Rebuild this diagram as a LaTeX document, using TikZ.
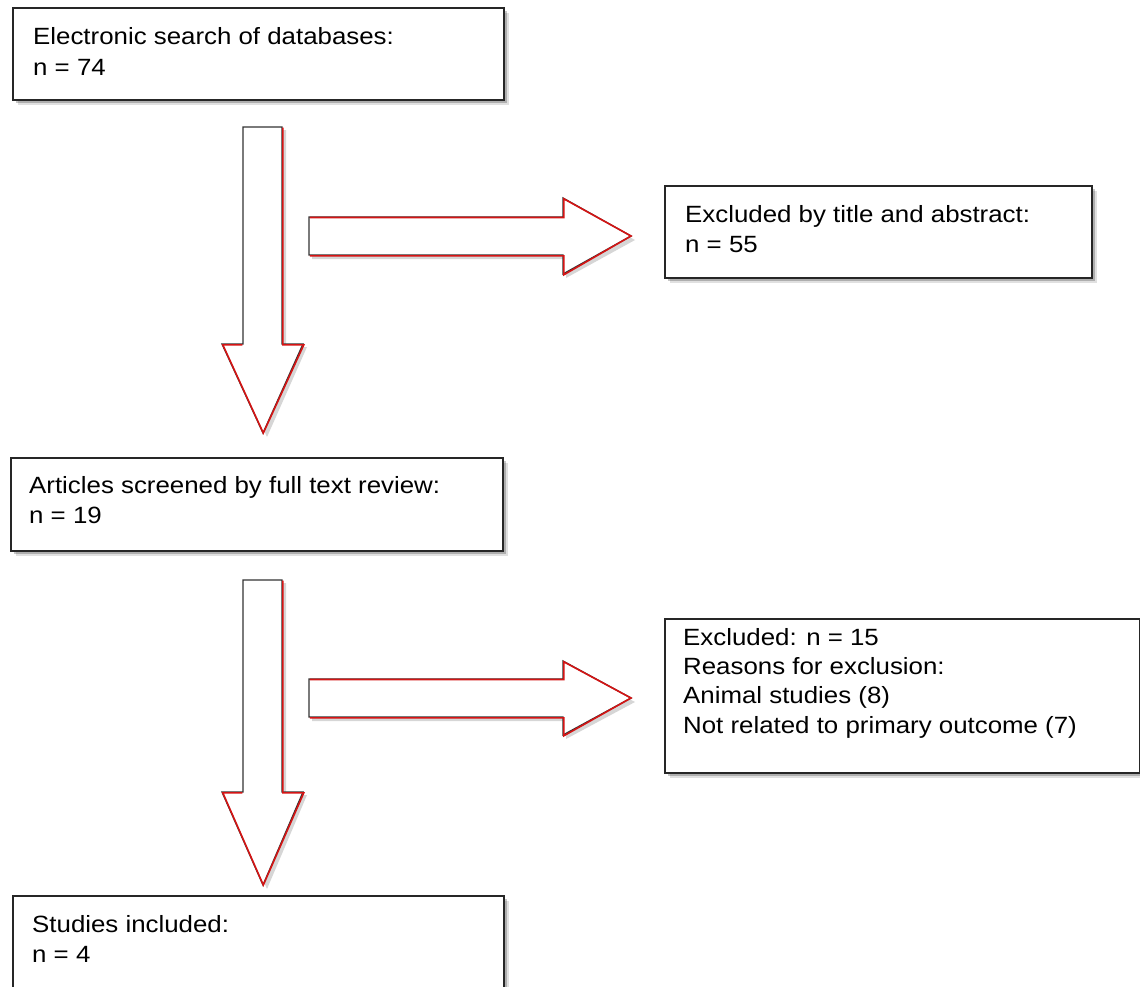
\documentclass[tikz,border=0pt]{standalone}
\usepackage{fontspec}
\setmainfont{Liberation Sans}[FakeStretch=1.1]
\usetikzlibrary{shadows}
\definecolor{arrred}{HTML}{D41414}
\tikzset{
  boxnode/.style={draw=black!85, line width=1.8pt, fill=white, rectangle, inner sep=0pt, anchor=north west,
    drop shadow={shadow xshift=5pt, shadow yshift=-5pt, fill=black, opacity=0.12},
    drop shadow={shadow xshift=3pt, shadow yshift=-3pt, fill=black, opacity=0.22}},
  txt/.style={anchor=base west, inner sep=0pt, font=\fontsize{23.5}{30}\selectfont},
  arrblack/.style={draw=black!80, line width=1.3pt, fill=white, line join=miter},
  arrred/.style={draw=arrred, line width=1.6pt, line join=miter},
  arrshadow/.style={fill=black, opacity=0.16},
}
\begin{document}
\begin{tikzpicture}[x=1pt, y=-1pt]
\useasboundingbox (0,0) rectangle (1140,986);
\clip (0,0) rectangle (1140,986);
\fill[white] (0,0) rectangle (1140,986);

% boxes
\node[boxnode, minimum width=491pt, minimum height=92pt] (b1) at (12,7) {};
\node[boxnode, minimum width=427pt, minimum height=92pt] (b2) at (664,185) {};
\node[boxnode, minimum width=492pt, minimum height=93pt] (b3) at (10,457) {};
\node[boxnode, minimum width=475pt, minimum height=154pt] (b4) at (664,618) {};
\node[boxnode, minimum width=491pt, minimum height=120pt] (b5) at (12,895) {};

% texts
\node[txt] (t1a) at (33,44) {Electronic search of databases:};
\node[txt] (t1b) at (33,75) {n = 74};
\node[txt] (t2a) at (685,222) {Excluded by title and abstract:};
\node[txt] (t2b) at (685,252) {n = 55};
\node[txt] (t3a) at (29,493) {Articles screened by full text review:};
\node[txt] (t3b) at (29,523) {n = 19};
\node[txt] (t4a) at (683,645) {Excluded: n = 15};
\node[txt] (t4b) at (683,674) {Reasons for exclusion:};
\node[txt] (t4c) at (683,703) {Animal studies (8)};
\node[txt] (t4d) at (683,733) {Not related to primary outcome (7)};
\node[txt] (t5a) at (32,932) {Studies included:};
\node[txt] (t5b) at (32,962) {n = 4};

% down arrows
\foreach \top/\hs/\tip in {127/344/433, 580/792/885}{
  \fill[arrshadow] (247,\top+3) -- (286,\top+3) -- (286,\hs+3) -- (307,\hs+3) -- (267,\tip+4) -- (226,\hs+3) -- (247,\hs+3) -- cycle;
  \path[arrblack] (243,\top) -- (282,\top) -- (282,\hs) -- (303,\hs) -- (263,\tip) -- (222,\hs) -- (243,\hs) -- cycle;
  \draw[arrred] (282.8,\top+0.5) -- (282.8,\hs+0.8) -- (303.8,\hs+0.8) -- (263.3,\tip) -- (222.8,\hs+0.8) -- (242.3,\hs+0.8);
}
% right arrows
\foreach \ys/\ye/\hs/\he in {217/255/198/274, 679/717/661/735}{
  \pgfmathsetmacro\tipy{(\ys+\ye)/2}
  \fill[arrshadow] (312,\ys+4) -- (566,\ys+4) -- (566,\hs+4) -- (635,\tipy+4) -- (566,\he+4) -- (566,\ye+4) -- (312,\ye+4) -- cycle;
  \path[arrblack] (309,\ys) -- (563,\ys) -- (563,\hs) -- (631,\tipy) -- (563,\he) -- (563,\ye) -- (309,\ye) -- cycle;
  \draw[arrred] (309.8,\ys+0.5) -- (563.8,\ys+0.5) -- (563.8,\hs+0.8) -- (631,\tipy) -- (563.8,\he+0.8) -- (563.8,\ye+0.8) -- (309.8,\ye+0.8);
}
\end{tikzpicture}
\end{document}
